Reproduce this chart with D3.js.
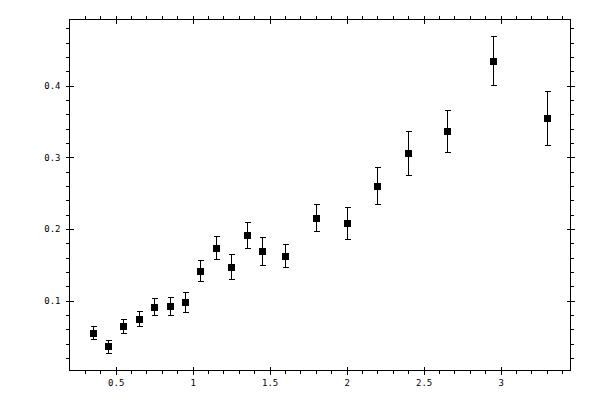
<!DOCTYPE html>
<html>
<head>
<meta charset="utf-8">
<script src="https://cdn.jsdelivr.net/npm/d3@7"></script>
<style>
  html, body { margin: 0; padding: 0; background: #fff; }
  svg { display: block; }
  svg line, svg rect { shape-rendering: crispEdges; }
</style>
</head>
<body>
<svg id="chart" width="600" height="400"></svg>
<script>
// data
const xValues = [0.35, 0.45, 0.55, 0.65, 0.75, 0.85, 0.95, 1.05, 1.15, 1.25,
  1.35, 1.45, 1.6, 1.8, 2.0, 2.2, 2.4, 2.65, 2.95, 3.3];
const yValues = [0.0554, 0.0363, 0.0652, 0.0749, 0.0917, 0.0931, 0.0986, 0.1419, 0.174, 0.1475,
  0.1921, 0.1698, 0.1628, 0.2158, 0.2089, 0.2605, 0.3065, 0.3372, 0.4349, 0.3554];
const yErrors = [0.0091, 0.0095, 0.0098, 0.0102, 0.0119, 0.0126, 0.014, 0.0144, 0.016, 0.0174,
  0.0181, 0.0195, 0.016, 0.0188, 0.0223, 0.0258, 0.0307, 0.0293, 0.0342, 0.0377];
const xTickLabels = [0.5, 1, 1.5, 2, 2.5, 3];
const yTickLabels = [0.1, 0.2, 0.3, 0.4];

const points = xValues.map((x, i) => ({ x, y: yValues[i], e: yErrors[i] }));

//base setting
const margin = { top: 19.5, right: 29.5, bottom: 29.5, left: 69.5 };
const width = 600;
const height = 400;
const majorLen = 4;
const minorLen = 3.5;

const x = d3.scaleLinear().domain([0.2, 3.454]).range([margin.left, width - margin.right]);
const y = d3.scaleLinear().domain([0.0028, 0.4921]).range([height - margin.bottom, margin.top]);

// minor ticks between the labelled ones
const isMajor = (list) => (v) => list.some((m) => Math.abs(m - v) < 1e-6);
const xMinor = d3.range(3, 35).map((d) => d / 10).filter((v) => !isMajor(xTickLabels)(v));
const yMinor = d3.range(1, 25).map((d) => d / 50).filter((v) => !isMajor(yTickLabels)(v));

const svg = d3.select('#chart');
const fontFamily = "'DejaVu Sans Mono', monospace";

// frame
svg.append('rect')
  .attr('x', margin.left)
  .attr('y', margin.top)
  .attr('width', width - margin.right - margin.left)
  .attr('height', height - margin.bottom - margin.top)
  .attr('fill', 'none')
  .attr('stroke', '#000')
  .attr('stroke-width', 1);

// axis helper: major ticks cross the frame, minor ticks point outward
const drawAxis = (axisFn, scale, pos, transform, major, minor, labels, crossAttr) => {
  const gMinor = svg.append('g').attr('transform', transform)
    .call(axisFn(scale).tickValues(minor).tickSize(minorLen).tickFormat(''));
  gMinor.select('.domain').remove();

  const gMajor = svg.append('g').attr('transform', transform)
    .call(axisFn(scale).tickValues(major).tickSize(majorLen).tickPadding(5)
      .tickFormat(labels ? (d) => d3.format('')(d) : ''));
  gMajor.select('.domain').remove();
  gMajor.selectAll('.tick line').attr(crossAttr, pos);

  [gMinor, gMajor].forEach((g) => g.selectAll('.tick line').attr('stroke', '#000'));
  gMajor.selectAll('text')
    .attr('fill', '#000')
    .style('font-family', fontFamily)
    .style('font-size', '9px');
  return gMajor;
};

drawAxis(d3.axisBottom, x, -majorLen, `translate(0,${height - margin.bottom})`,
  xTickLabels, xMinor, true, 'y1');
drawAxis(d3.axisTop, x, majorLen, `translate(0,${margin.top})`,
  xTickLabels, xMinor, false, 'y1');
drawAxis(d3.axisLeft, y, majorLen, `translate(${margin.left},0)`,
  yTickLabels, yMinor, true, 'x1');
drawAxis(d3.axisRight, y, -majorLen, `translate(${width - margin.right},0)`,
  yTickLabels, yMinor, false, 'x1');

// error bars
const bars = svg.append('g').attr('stroke', '#000').attr('stroke-width', 1);
bars.selectAll('line.err')
  .data(points)
  .join('line')
  .attr('class', 'err')
  .attr('x1', (d) => Math.round(x(d.x)) + 0.5)
  .attr('x2', (d) => Math.round(x(d.x)) + 0.5)
  .attr('y1', (d) => y(d.y - d.e))
  .attr('y2', (d) => y(d.y + d.e));
bars.selectAll('line.cap-top')
  .data(points)
  .join('line')
  .attr('class', 'cap-top')
  .attr('x1', (d) => Math.round(x(d.x)) - 2.5)
  .attr('x2', (d) => Math.round(x(d.x)) + 3.5)
  .attr('y1', (d) => Math.round(y(d.y + d.e)) + 0.5)
  .attr('y2', (d) => Math.round(y(d.y + d.e)) + 0.5);
bars.selectAll('line.cap-bot')
  .data(points)
  .join('line')
  .attr('class', 'cap-bot')
  .attr('x1', (d) => Math.round(x(d.x)) - 2.5)
  .attr('x2', (d) => Math.round(x(d.x)) + 3.5)
  .attr('y1', (d) => Math.round(y(d.y - d.e)) + 0.5)
  .attr('y2', (d) => Math.round(y(d.y - d.e)) + 0.5);

// square markers
const size = 7;
svg.append('g')
  .attr('fill', '#000')
  .selectAll('rect')
  .data(points)
  .join('rect')
  .attr('x', (d) => Math.round(x(d.x)) - 3)
  .attr('y', (d) => Math.round(y(d.y)) - 3)
  .attr('width', size)
  .attr('height', size);
</script>
</body>
</html>
